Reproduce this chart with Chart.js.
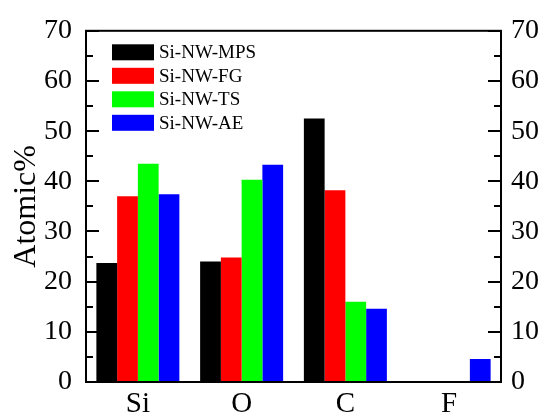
<!DOCTYPE html>
<html>
<head>
<meta charset="utf-8">
<script src="https://cdn.jsdelivr.net/npm/chart.js@4"></script>
<style>
    html, body { margin: 0; padding: 0; background: #fff; }
    canvas { display: block; }
</style>
</head>
<body>
<canvas id="myChart" width="549" height="416"></canvas>
<script>
// DATA

const elements = ['Si', 'O', 'C', 'F'];
const seriesNames = ['Si-NW-MPS', 'Si-NW-FG', 'Si-NW-TS', 'Si-NW-AE'];
const mpsValues = [23.7, 24.0, 52.5, 0];
const fgValues = [37.0, 24.8, 38.2, 0];
const tsValues = [43.5, 40.3, 16.0, 0];
const aeValues = [37.4, 43.3, 14.6, 4.6];
const seriesColors = ['#000000', '#ff0000', '#00ff00', '#0000ff'];
const yTicks = [0, 10, 20, 30, 40, 50, 60, 70];

const serif = '"Liberation Serif", "Times New Roman", serif';

// FRAME, INWARD TICKS AND THE LEGEND

const framePlugin = {
    id: 'frame',
    afterDraw(chart) {
        const ctx = chart.ctx;
        const area = chart.chartArea;
        const y = chart.scales.y;

        ctx.save();
        ctx.strokeStyle = '#000';
        ctx.lineWidth = 2;
        ctx.strokeRect(area.left, area.top, area.right - area.left, area.bottom - area.top);

        // major and minor ticks pointing into the plot
        for (let v = 0; v <= 70; v += 5) {
            const py = Math.round(y.getPixelForValue(v));
            const len = v % 10 === 0 ? 13 : 7;
            ctx.beginPath();
            ctx.moveTo(area.left, py);
            ctx.lineTo(area.left + len, py);
            ctx.moveTo(area.right, py);
            ctx.lineTo(area.right - len, py);
            ctx.stroke();
        }

        // legend
        ctx.font = '19px ' + serif;
        ctx.textBaseline = 'middle';
        ctx.textAlign = 'left';
        chart.data.datasets.forEach((ds, i) => {
            const cy = area.top + 21.5 + i * 23.5;
            ctx.fillStyle = ds.backgroundColor;
            ctx.fillRect(area.left + 26, cy - 8, 42, 16);
            ctx.fillStyle = '#000';
            ctx.fillText(ds.label, area.left + 73, cy + 1);
        });
        ctx.restore();
    }
};

const ctx = document.getElementById('myChart').getContext('2d');
const valueSets = [mpsValues, fgValues, tsValues, aeValues];

new Chart(ctx, {
    type: 'bar',
    data: {
        labels: elements,
        datasets: seriesNames.map((name, i) => ({
            label: name,
            data: valueSets[i],
            backgroundColor: seriesColors[i],
            borderWidth: 0,
            categoryPercentage: 0.8,
            barPercentage: 1.0
        }))
    },
    options: {
        responsive: false,
        animation: false,
        devicePixelRatio: 1,
        layout: { padding: { top: 24, left: 0, right: 0, bottom: 0 } },
        plugins: {
            legend: { display: false },
            tooltip: { enabled: false }
        },
        scales: {
            x: {
                grid: { display: false, drawTicks: false },
                border: { display: false },
                ticks: {
                    color: '#000',
                    font: { family: serif, size: 29 },
                    padding: 5
                },
                afterFit(scale) { scale.height = 34; }
            },
            y: {
                position: 'left',
                min: 0,
                max: 70,
                afterBuildTicks(scale) { scale.ticks = yTicks.map(v => ({ value: v })); },
                grid: { display: false, drawTicks: false },
                border: { display: false },
                ticks: {
                    color: '#000',
                    font: { family: serif, size: 28 },
                    padding: 14
                },
                title: {
                    display: true,
                    text: 'Atomic%',
                    color: '#000',
                    font: { family: serif, size: 32 },
                    padding: { top: 7, bottom: 0 }
                },
                afterFit(scale) { scale.width = 86; }
            },
            y2: {
                position: 'right',
                min: 0,
                max: 70,
                afterBuildTicks(scale) { scale.ticks = yTicks.map(v => ({ value: v })); },
                grid: { display: false, drawTicks: false },
                border: { display: false },
                ticks: {
                    color: '#000',
                    font: { family: serif, size: 28 },
                    padding: 10
                },
                afterFit(scale) { scale.width = 48; }
            }
        }
    },
    plugins: [framePlugin]
});
</script>
</body>
</html>
